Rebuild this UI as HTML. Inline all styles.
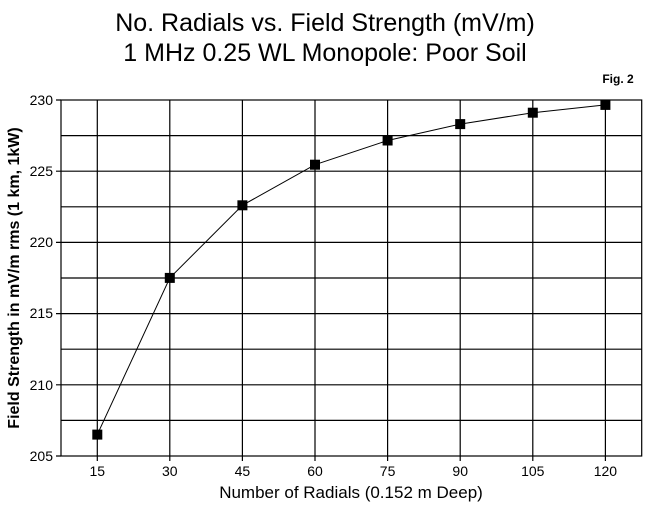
<!DOCTYPE html>
<html><head><style>body{margin:0;background:#fff}svg{display:block}</style></head><body>
<svg width="648" height="506" xmlns="http://www.w3.org/2000/svg" font-family="Liberation Sans, Arial, sans-serif">
<rect width="648" height="506" fill="#fff"/>
<text x="325" y="31" font-size="25" text-anchor="middle">No. Radials vs. Field Strength (mV/m)</text>
<text x="325" y="61" font-size="25" text-anchor="middle">1 MHz 0.25 WL Monopole: Poor Soil</text>
<text x="618" y="83" font-size="12" font-weight="bold" text-anchor="middle">Fig. 2</text>
<g stroke="#000" stroke-width="1.2" fill="none">
<rect x="61" y="100" width="580.7" height="356"/>
<path d="M61 135.6H641.7M61 171.2H641.7M61 206.8H641.7M61 242.4H641.7M61 278H641.7M61 313.6H641.7M61 349.2H641.7M61 384.8H641.7M61 420.4H641.7"/>
<path d="M97.3 100V461M169.8 100V461M242.4 100V461M315 100V461M387.6 100V461M460.2 100V461M532.8 100V461M605.4 100V461"/>
<path d="M56 100H61M56 171.2H61M56 242.4H61M56 313.6H61M56 384.8H61M56 456H61"/>
</g>
<g font-size="14" text-anchor="end">
<text x="53" y="105">230</text><text x="53" y="176">225</text><text x="53" y="247">220</text>
<text x="53" y="318">215</text><text x="53" y="390">210</text><text x="53" y="461">205</text>
</g>
<g font-size="14" text-anchor="middle">
<text x="97.3" y="476">15</text><text x="169.8" y="476">30</text><text x="242.4" y="476">45</text><text x="315" y="476">60</text>
<text x="387.6" y="476">75</text><text x="460.2" y="476">90</text><text x="532.8" y="476">105</text><text x="605.4" y="476">120</text>
</g>
<text x="351" y="498" font-size="17" text-anchor="middle">Number of Radials (0.152 m Deep)</text>
<text transform="translate(19,278) rotate(-90)" font-size="16" font-weight="bold" text-anchor="middle">Field Strength in mV/m rms (1 km, 1kW)</text>
<polyline fill="none" stroke="#000" stroke-width="1" points="97.3,434.6 169.8,277.9 242.4,205.3 315,164.7 387.6,140.5 460.2,124.1 532.8,112.7 605.4,104.9"/>
<g fill="#000">
<rect x="92.3" y="429.6" width="10" height="10"/><rect x="164.8" y="272.9" width="10" height="10"/>
<rect x="237.4" y="200.3" width="10" height="10"/><rect x="310" y="159.7" width="10" height="10"/>
<rect x="382.6" y="135.5" width="10" height="10"/><rect x="455.2" y="119.1" width="10" height="10"/>
<rect x="527.8" y="107.7" width="10" height="10"/><rect x="600.4" y="99.9" width="10" height="10"/>
</g>
</svg>
</body></html>
